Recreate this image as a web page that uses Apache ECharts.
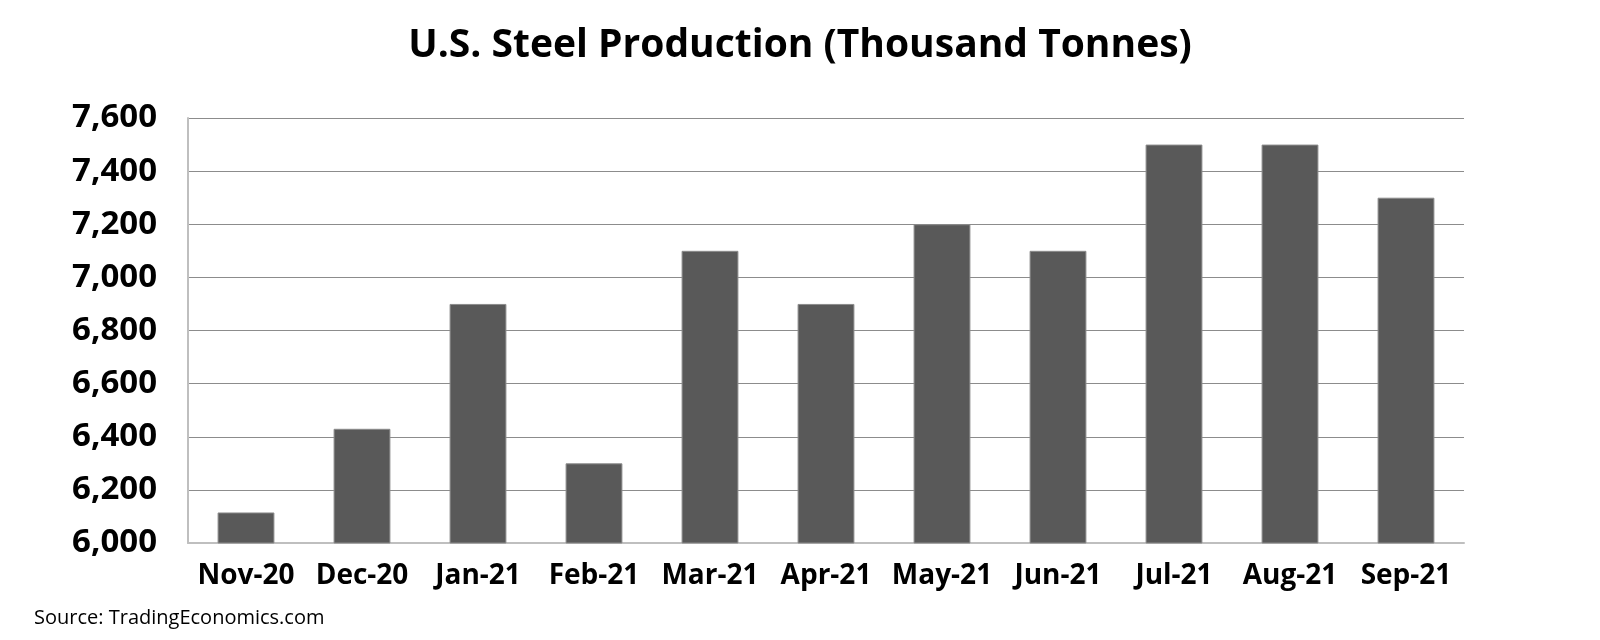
<!DOCTYPE html>
<html><head><meta charset="utf-8">
<script src="https://cdn.jsdelivr.net/npm/echarts@6/dist/echarts.min.js"></script>
<style>html,body{margin:0;padding:0;background:#fff}#c{width:1600px;height:640px}</style>
</head><body><div id="c"></div>
<script>
const categories = ['Nov-20','Dec-20','Jan-21','Feb-21','Mar-21','Apr-21','May-21','Jun-21','Jul-21','Aug-21','Sep-21'];
const production = [6115, 6430, 6900, 6300, 7100, 6900, 7200, 7100, 7500, 7500, 7300];
const titleText = 'U.S. Steel Production (Thousand Tonnes)';
const sourceText = 'Source: TradingEconomics.com';
const FONT = '"Open Sans", Lato, sans-serif';
const chart = echarts.init(document.getElementById('c'));
chart.setOption({
  backgroundColor: '#fff',
  animation: false,
  title: [{
    text: titleText, left: 'center', top: 21,
    textStyle: {fontFamily: FONT, fontWeight: 'bold', fontSize: 39, color: '#000'}
  }, {
    text: sourceText, left: 29, top: 603,
    textStyle: {fontFamily: FONT, fontWeight: 'normal', fontSize: 20, color: '#000'}
  }],
  grid: {left: 188, right: 136, top: 118, bottom: 97, containLabel: false},
  xAxis: {
    type: 'category', data: categories,
    axisLine: {lineStyle: {color: '#bfbfbf', width: 2}},
    axisTick: {show: false},
    axisLabel: {fontFamily: FONT, fontWeight: 'bold', fontSize: 28, color: '#000', margin: 19, interval: 0}
  },
  yAxis: {
    type: 'value', min: 6000, max: 7600, interval: 200,
    axisLine: {show: true, lineStyle: {color: '#bfbfbf', width: 2}},
    axisTick: {show: false},
    splitLine: {lineStyle: {color: '#8c8c8c', width: 1}},
    axisLabel: {fontFamily: FONT, fontWeight: 'bold', fontSize: 33, color: '#000', margin: 31,
      formatter: v => v.toLocaleString('en-US')}
  },
  series: [{
    type: 'bar', data: production, barWidth: '49%',
    itemStyle: {color: '#595959', borderColor: '#8c8c8c', borderWidth: 1}
  }]
});
</script></body></html>
